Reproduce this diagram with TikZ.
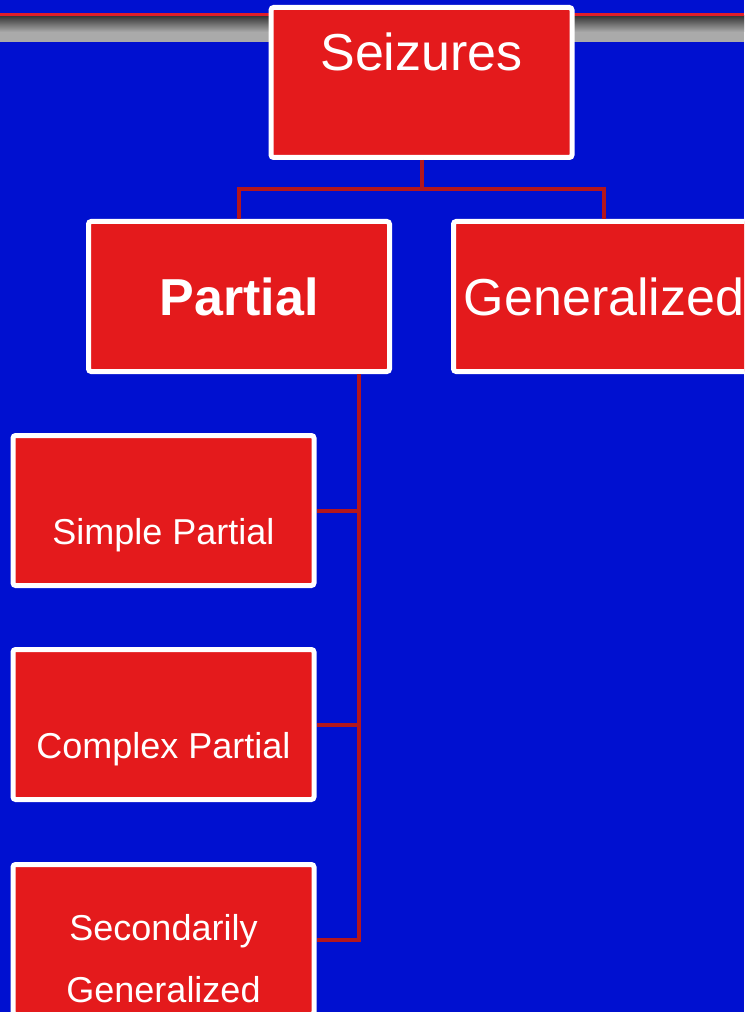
\documentclass[tikz,border=0pt]{standalone}
\usepackage{fontspec}
\setmainfont{Liberation Sans}
\usepackage{tikz}
\usetikzlibrary{calc}
\definecolor{bgblue}{RGB}{0,16,208}
\definecolor{boxred}{RGB}{228,26,28}
\definecolor{linered}{RGB}{180,22,28}
\definecolor{topred}{RGB}{225,30,40}
\definecolor{bardark}{RGB}{55,55,55}
\definecolor{barlight}{RGB}{170,170,170}

\begin{document}
\begin{tikzpicture}[x=0.75pt,y=-0.75pt,
	box/.style={draw=white,fill=boxred,line width=3.75pt,rounded corners=2pt,minimum width=225.75pt,minimum height=112.5pt,inner sep=0pt,text=white},
	conn/.style={draw=linered,line width=3pt},
	big/.style={text=white,font=\fontsize{39}{47}\selectfont},
	small/.style={text=white,font=\fontsize{27}{33}\selectfont}]
	\useasboundingbox (0,0) rectangle (744,1012);
	\clip (0,0) rectangle (744,1012);
	\fill [bgblue] (0,0) rectangle (744,1012);
	\shade [top color=bardark,bottom color=barlight] (0,16) rectangle (744,32);
	\fill [barlight] (0,32) rectangle (744,42);
	\draw [topred,line width=2.25pt] (0,14.5) -- (744,14.5);

	\node [box] (S) at (421.5,82.5) {};
	\node [box,big,font=\fontsize{39}{47}\selectfont\bfseries] (P) at (239,296.5) {Partial};
	\node [box,big] (G) at (604,296.5) {Generalized};
	\node [box] (SP) at (163.5,510.5) {};
	\node [box] (CP) at (163.5,724.5) {};
	\node [box] (SG) at (163.5,939.5) {};

	\node [big,anchor=base] (S1) at (421.5,71) {Seizures};
	\node [small,anchor=base] (SP1) at (163.5,544) {Simple Partial};
	\node [small,anchor=base] (CP1) at (163.5,758) {Complex Partial};
	\node [small,anchor=base] (SG1) at (163.5,940) {Secondarily};
	\node [small,anchor=base] (SG2) at (163.5,1002) {Generalized};

	\coordinate (J) at (421.5,189);
	\coordinate (T) at (359,0);
	\draw [conn] (S.south) -- (J) -| (P.north);
	\draw [conn] (J) -| (G.north);
	\draw [conn] (P.south -| T) |- (SG.east);
	\draw [conn] (SP.east) -- (SP.east -| T);
	\draw [conn] (CP.east) -- (CP.east -| T);
\end{tikzpicture}
\end{document}
